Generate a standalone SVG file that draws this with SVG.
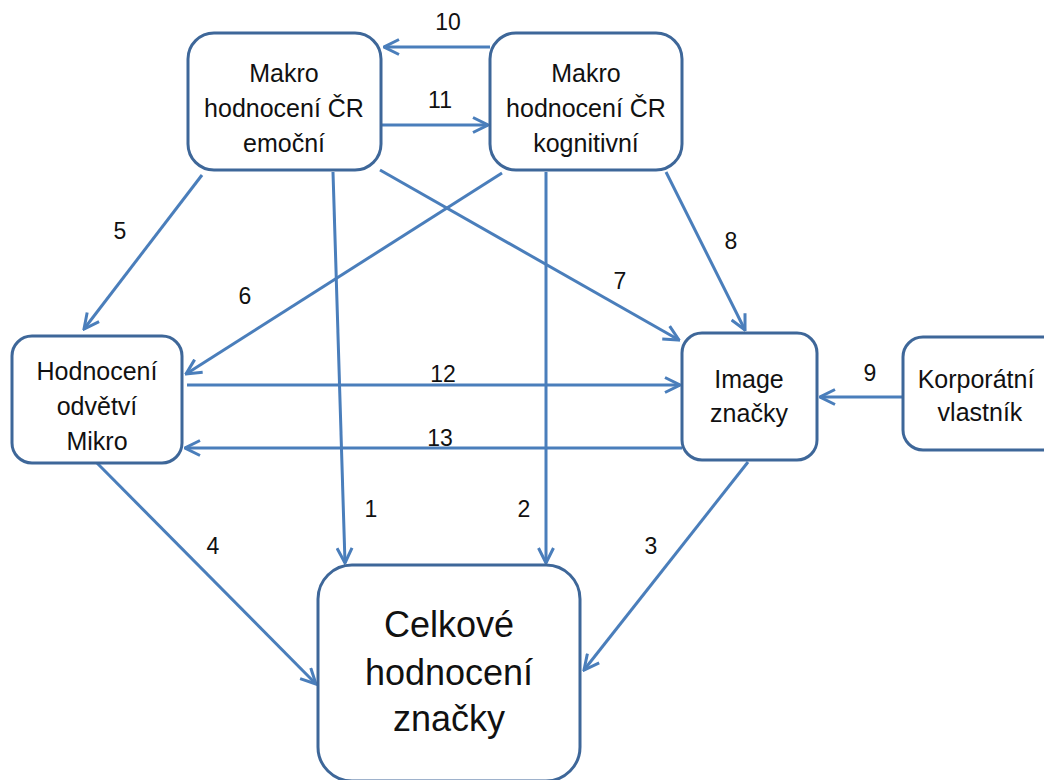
<svg xmlns="http://www.w3.org/2000/svg" width="1044" height="780" viewBox="0 0 1044 780">
<style>
.box{fill:#fff;stroke:#3e6799;stroke-width:3}
.t{font-family:"Liberation Sans",Arial,sans-serif;font-size:25px;fill:#111;text-anchor:middle}
.big{font-size:36px}
.n{font-family:"Liberation Sans",Arial,sans-serif;font-size:23px;fill:#111;text-anchor:middle}
.c{stroke:#4a7ebb;stroke-width:3;fill:none;marker-end:url(#a)}
</style>
<defs>
<marker id="a" viewBox="0 0 12 12" refX="11" refY="6" markerWidth="6" markerHeight="6" orient="auto" markerUnits="strokeWidth">
<path d="M1,1 L11,6 L1,11" fill="none" stroke="#4a7ebb" stroke-width="2"/>
</marker>
</defs>
<g id="connectors">
<line class="c" x1="490" y1="47" x2="384" y2="47"/>
<line class="c" x1="382" y1="125" x2="488" y2="125"/>
<line class="c" x1="202" y1="175" x2="84" y2="329"/>
<line class="c" x1="502" y1="173" x2="186" y2="374"/>
<line class="c" x1="333" y1="172" x2="345" y2="563"/>
<line class="c" x1="546" y1="172" x2="546" y2="563"/>
<line class="c" x1="380" y1="170" x2="679" y2="340"/>
<line class="c" x1="666" y1="172" x2="745" y2="330"/>
<line class="c" x1="187" y1="385" x2="680" y2="385"/>
<line class="c" x1="682" y1="448" x2="185" y2="448"/>
<line class="c" x1="903" y1="397" x2="820" y2="397"/>
<line class="c" x1="96" y1="462" x2="316" y2="684"/>
<line class="c" x1="748" y1="462" x2="584" y2="670"/>
<text class="n" x="448" y="30">10</text>
<text class="n" x="440" y="108">11</text>
<text class="n" x="120" y="239">5</text>
<text class="n" x="245" y="304">6</text>
<text class="n" x="620" y="289">7</text>
<text class="n" x="731" y="249">8</text>
<text class="n" x="443" y="382">12</text>
<text class="n" x="440" y="446">13</text>
<text class="n" x="870" y="381">9</text>
<text class="n" x="371" y="517">1</text>
<text class="n" x="524" y="517">2</text>
<text class="n" x="213" y="554">4</text>
<text class="n" x="651" y="554">3</text>
</g>
<g id="makro-emocni">
<rect class="box" x="188" y="33" width="193" height="137" rx="26"/>
<text class="t" x="284" y="82">Makro</text>
<text class="t" x="284" y="117">hodnocení ČR</text>
<text class="t" x="284" y="152">emoční</text>
</g>
<g id="makro-kognitivni">
<rect class="box" x="490" y="33" width="192" height="137" rx="26"/>
<text class="t" x="586" y="82">Makro</text>
<text class="t" x="586" y="117">hodnocení ČR</text>
<text class="t" x="586" y="152">kognitivní</text>
</g>
<g id="hodnoceni-odvetvi">
<rect class="box" x="12" y="336" width="170" height="127" rx="20"/>
<text class="t" x="97" y="380">Hodnocení</text>
<text class="t" x="97" y="415">odvětví</text>
<text class="t" x="97" y="450">Mikro</text>
</g>
<g id="image-znacky">
<rect class="box" x="682" y="333" width="135" height="127" rx="20"/>
<text class="t" x="749" y="388">Image</text>
<text class="t" x="749" y="422">značky</text>
</g>
<g id="korporatni-vlastnik">
<rect class="box" x="903" y="337" width="170" height="113" rx="20"/>
<text class="t" x="976" y="388">Korporátní</text>
<text class="t" x="980" y="421">vlastník</text>
</g>
<g id="celkove-hodnoceni">
<rect class="box" x="318" y="565" width="262" height="216" rx="34"/>
<text class="t big" x="449" y="637">Celkové</text>
<text class="t big" x="449" y="685">hodnocení</text>
<text class="t big" x="449" y="731">značky</text>
</g>
</svg>
